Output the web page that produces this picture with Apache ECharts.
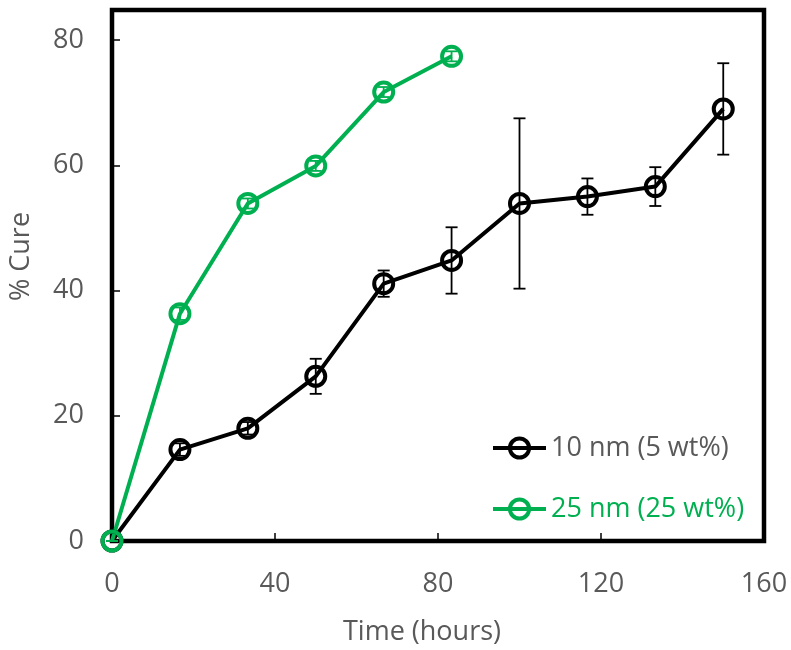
<!DOCTYPE html>
<html>
<head>
<meta charset="utf-8">
<script src="https://cdn.jsdelivr.net/npm/echarts@6/dist/echarts.min.js"></script>
<style>
  html, body { margin: 0; padding: 0; background: #fff; }
  #chart { width: 791px; height: 650px; }
</style>
</head>
<body>
<div id="chart"></div>
<script>
// time points (hours)
const hours = [0, 16.67, 33.33, 50, 66.67, 83.33, 100, 116.67, 133.33, 150]
const hours25 = [0, 16.67, 33.33, 50, 66.67, 83.33]
// % cure and error (+/-)
const cure10 = [0, 14.6, 18.0, 26.3, 41.1, 44.8, 53.9, 55.0, 56.6, 69.0]
const err10 = [0, 1.0, 1.0, 2.8, 2.1, 5.3, 13.6, 2.9, 3.1, 7.3]
const cure25 = [0, 36.3, 53.9, 59.9, 71.7, 77.4]
const err25 = [0, 1.0, 0.8, 0.8, 0.8, 0.8]
const yTicks = [0, 20, 40, 60, 80]
const xTicks = [0, 40, 80, 120, 160]

const name10 = '10 nm (5 wt%)'
const name25 = '25 nm (25 wt%)'
const black = '#000000'
const green = '#00B050'
const gray = '#595959'
const font = '"Open Sans", "Noto Sans", sans-serif'

const pts = (xs, ys) => xs.map((x, i) => [x, ys[i]])
const bars = (xs, ys, es) => xs.map((x, i) => [x, ys[i] - es[i], ys[i] + es[i]])

// error bar drawing through the axis scales
function errorBar (color) {
  return function (params, api) {
    const lo = api.coord([api.value(0), api.value(1)])
    const hi = api.coord([api.value(0), api.value(2)])
    const w = 6
    const style = { stroke: color, lineWidth: 1.8 }
    return {
      type: 'group',
      children: [
        { type: 'line', shape: { x1: lo[0], y1: lo[1], x2: hi[0], y2: hi[1] }, style },
        { type: 'line', shape: { x1: lo[0] - w, y1: lo[1], x2: lo[0] + w, y2: lo[1] }, style },
        { type: 'line', shape: { x1: hi[0] - w, y1: hi[1], x2: hi[0] + w, y2: hi[1] }, style }
      ]
    }
  }
}

const option = {
  animation: false,
  backgroundColor: '#fff',
  grid: {
    left: 112,
    right: 27,
    top: 10,
    bottom: 109,
    outerBoundsMode: 'none',
    show: true,
    borderColor: '#000',
    borderWidth: 4.5,
    backgroundColor: 'transparent'
  },
  legend: {
    orient: 'vertical',
    left: 486,
    top: 426,
    itemWidth: 53,
    itemHeight: 24,
    itemGap: 27,
    lineStyle: { width: 4 },
    itemStyle: { borderWidth: 4 },
    textStyle: { fontFamily: font, fontSize: 27, lineHeight: 34, color: gray },
    data: [
      { name: name10, textStyle: { color: gray } },
      { name: name25, textStyle: { color: green } }
    ]
  },
  xAxis: {
    type: 'value',
    min: 0,
    max: 160,
    interval: 40,
    name: 'Time (hours)',
    nameLocation: 'middle',
    nameGap: 78,
    nameTextStyle: { fontFamily: font, fontSize: 27, color: gray, padding: [0, 32, 0, 0] },
    axisLine: { show: false },
    axisTick: { show: true, inside: true, length: 8, lineStyle: { color: '#000', width: 1.5 } },
    axisLabel: {
      margin: 30,
      fontFamily: font,
      fontSize: 27,
      color: gray,
      formatter: v => xTicks.includes(v) ? String(v) : ''
    },
    splitLine: { show: false }
  },
  yAxis: {
    type: 'value',
    min: 0,
    max: 84.8,
    interval: 20,
    name: '% Cure',
    nameLocation: 'middle',
    nameGap: 77,
    nameTextStyle: { fontFamily: font, fontSize: 27, color: gray, padding: [0, 0, 0, 38] },
    axisLine: { show: false },
    axisTick: { show: true, inside: true, length: 8, lineStyle: { color: '#000', width: 1.5 } },
    axisLabel: {
      margin: 28,
      fontFamily: font,
      fontSize: 27,
      color: gray,
      formatter: v => yTicks.includes(v) ? String(v) : ''
    },
    splitLine: { show: false }
  },
  series: [
    {
      name: name10,
      type: 'line',
      data: pts(hours, cure10),
      symbol: 'circle',
      symbolSize: 19,
      lineStyle: { color: black, width: 4 },
      itemStyle: { color: 'rgba(255,255,255,0)', borderColor: black, borderWidth: 4 },
      z: 3
    },
    {
      name: name25,
      type: 'line',
      data: pts(hours25, cure25),
      symbol: 'circle',
      symbolSize: 19,
      lineStyle: { color: green, width: 4 },
      itemStyle: { color: 'rgba(255,255,255,0)', borderColor: green, borderWidth: 4 },
      z: 3
    },
    {
      name: name10 + ' err',
      type: 'custom',
      data: bars(hours, cure10, err10),
      renderItem: errorBar(black),
      encode: { x: 0, y: [1, 2] },
      z: 4
    },
    {
      name: name25 + ' err',
      type: 'custom',
      data: bars(hours25, cure25, err25),
      renderItem: errorBar(green),
      encode: { x: 0, y: [1, 2] },
      z: 4
    }
  ]
}

echarts.init(document.getElementById('chart')).setOption(option)
</script>
</body>
</html>
